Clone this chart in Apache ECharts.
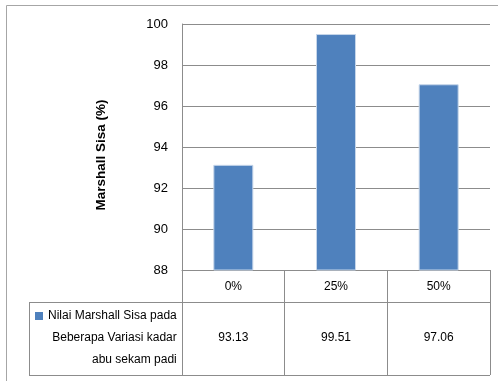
<!DOCTYPE html>
<html lang="en">
<head>
<meta charset="UTF-8">
<title>Marshall Sisa</title>
<style>
  html, body { margin: 0; padding: 0; background: #fff; }
  #chart { width: 498px; height: 381px; }
</style>
</head>
<body>
<div id="chart"></div>
<script src="https://cdn.jsdelivr.net/npm/echarts@6/dist/echarts.min.js"></script>
<script>
// data
var categories = ['0%', '25%', '50%'];
var marshallSisa = [93.13, 99.51, 97.06];
var yRange = [88, 100];
var yStep = 2;
var seriesName = 'Nilai Marshall Sisa pada\nBeberapa Variasi kadar\nabu sekam padi';
var yTitle = 'Marshall Sisa (%)';

var lineCol = '#8c8c8c';
var font = 'Liberation Sans';

var chart = echarts.init(document.getElementById('chart'));

// table frame lines (data table under the plot)
function hline(x1, x2, y) {
    return { type: 'line', shape: { x1: x1, y1: y, x2: x2, y2: y }, style: { stroke: lineCol, lineWidth: 1 } };
}
function vline(x, y1, y2) {
    return { type: 'line', shape: { x1: x, y1: y1, x2: x, y2: y2 }, style: { stroke: lineCol, lineWidth: 1 } };
}

chart.setOption({
    animation: false,
    textStyle: { fontFamily: font },
    grid: { left: 182, right: 8, top: 24, bottom: 111 },
    legend: {
        left: 35,
        top: 310,
        padding: 0,
        icon: 'rect',
        itemWidth: 8,
        itemHeight: 8,
        itemStyle: { borderWidth: 0 },
        formatter: function (name) {
            return name.split('\n').map(function (s) { return '{t|' + s + '}'; }).join('\n');
        },
        textStyle: {
            padding: [44, 0, 0, 0],
            rich: { t: { align: 'right', fontSize: 12, lineHeight: 22, color: '#000', fontFamily: font } }
        }
    },
    xAxis: [{
        type: 'category',
        data: categories,
        position: 'bottom',
        axisLine: { lineStyle: { color: lineCol } },
        axisTick: { show: true, length: 105, lineStyle: { color: lineCol } },
        axisLabel: { margin: 11, fontSize: 12, color: '#000' }
    }, {
        type: 'category',
        data: marshallSisa.map(function (v) { return v.toFixed(2); }),
        position: 'bottom',
        axisLine: { show: false },
        axisTick: { show: false },
        axisLabel: { margin: 62, fontSize: 12, color: '#000' }
    }],
    yAxis: {
        type: 'value',
        min: yRange[0],
        max: yRange[1],
        interval: yStep,
        name: yTitle,
        nameLocation: 'middle',
        nameGap: 74,
        nameTextStyle: { fontWeight: 'bold', fontSize: 13.5, color: '#000', padding: [0, 16, 0, 0] },
        axisLine: { show: true, lineStyle: { color: lineCol } },
        axisTick: { show: false },
        axisLabel: { margin: 14, fontSize: 13, color: '#000', showMinLabel: true, hideOverlap: false },
        splitLine: { lineStyle: { color: lineCol } }
    },
    series: [{
        name: seriesName,
        type: 'bar',
        data: marshallSisa,
        barWidth: 40,
        itemStyle: { color: '#4f81bd', borderColor: '#c6d6ea', borderWidth: 1 }
    }],
    graphic: [
        { type: 'rect', shape: { x: 6.5, y: 5.5, width: 600, height: 500 }, style: { fill: 'transparent', stroke: '#a6a6a6', lineWidth: 1 } },
        hline(29, 490, 302.5),
        hline(29, 490, 375.5),
        vline(29.5, 302, 376)
    ]
});
</script>
</body>
</html>
